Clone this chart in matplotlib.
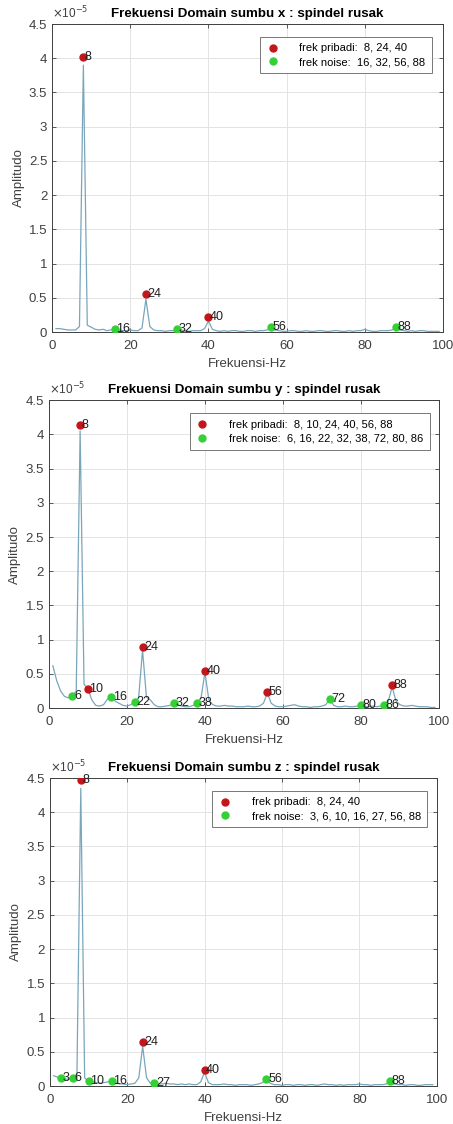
import numpy as np
import matplotlib
matplotlib.use("Agg")
from matplotlib import pyplot as plt

plt.rcParams['font.family'] = ['Liberation Sans', 'DejaVu Sans']

# frequency axis (Hz) and spectra, amplitude in units of 1e-5
freq = list(range(1, 100))

amp_x = [0.05, 0.05, 0.04, 0.03, 0.03, 0.03, 0.08, 3.90, 0.10, 0.07,
         0.04, 0.03, 0.04, 0.02, 0.03, 0.04, 0.03, 0.02, 0.02, 0.03,
         0.02, 0.02, 0.06, 0.48, 0.08, 0.03, 0.02, 0.02, 0.01, 0.02,
         0.02, 0.05, 0.03, 0.02, 0.01, 0.02, 0.02, 0.02, 0.05, 0.16,
         0.04, 0.02, 0.01, 0.02, 0.01, 0.02, 0.02, 0.01, 0.01, 0.02,
         0.02, 0.01, 0.02, 0.02, 0.03, 0.08, 0.03, 0.02, 0.01, 0.01,
         0.02, 0.02, 0.01, 0.01, 0.02, 0.01, 0.01, 0.02, 0.02, 0.01,
         0.01, 0.02, 0.02, 0.01, 0.01, 0.02, 0.01, 0.02, 0.02, 0.04,
         0.02, 0.01, 0.01, 0.02, 0.02, 0.02, 0.03, 0.07, 0.03, 0.02,
         0.01, 0.02, 0.01, 0.02, 0.02, 0.01, 0.01, 0.01, 0.01]

amp_y = [0.62, 0.40, 0.25, 0.17, 0.15, 0.18, 0.25, 4.05, 0.35, 0.28,
         0.12, 0.04, 0.03, 0.05, 0.13, 0.16, 0.10, 0.07, 0.04, 0.03,
         0.05, 0.09, 0.15, 0.85, 0.16, 0.12, 0.05, 0.02, 0.02, 0.03,
         0.04, 0.07, 0.05, 0.03, 0.02, 0.02, 0.04, 0.07, 0.15, 0.52,
         0.12, 0.05, 0.03, 0.03, 0.04, 0.03, 0.03, 0.02, 0.02, 0.02,
         0.03, 0.02, 0.02, 0.03, 0.07, 0.22, 0.07, 0.03, 0.02, 0.02,
         0.03, 0.04, 0.05, 0.03, 0.02, 0.02, 0.01, 0.02, 0.02, 0.03,
         0.05, 0.14, 0.04, 0.02, 0.02, 0.03, 0.02, 0.02, 0.03, 0.04,
         0.02, 0.02, 0.03, 0.02, 0.03, 0.04, 0.10, 0.31, 0.10, 0.05,
         0.03, 0.03, 0.04, 0.03, 0.02, 0.02, 0.02, 0.01, 0.01]

amp_z = [0.15, 0.13, 0.11, 0.10, 0.10, 0.12, 0.15, 4.35, 0.12, 0.07,
         0.06, 0.05, 0.04, 0.05, 0.06, 0.07, 0.05, 0.03, 0.03, 0.02,
         0.03, 0.04, 0.12, 0.58, 0.12, 0.04, 0.05, 0.03, 0.03, 0.04,
         0.03, 0.03, 0.02, 0.03, 0.02, 0.03, 0.02, 0.02, 0.06, 0.20,
         0.05, 0.02, 0.02, 0.02, 0.03, 0.02, 0.02, 0.01, 0.02, 0.02,
         0.02, 0.01, 0.02, 0.03, 0.05, 0.10, 0.04, 0.02, 0.02, 0.01,
         0.02, 0.02, 0.01, 0.02, 0.02, 0.01, 0.02, 0.02, 0.01, 0.02,
         0.03, 0.02, 0.02, 0.01, 0.02, 0.01, 0.02, 0.02, 0.02, 0.03,
         0.02, 0.02, 0.01, 0.02, 0.02, 0.02, 0.03, 0.07, 0.03, 0.02,
         0.02, 0.01, 0.02, 0.02, 0.01, 0.01, 0.02, 0.02, 0.02]

# marked peaks: (frequency, amplitude)
pribadi_x_f = [8, 24, 40]
pribadi_x_a = [4.02, 0.55, 0.22]
noise_x_f = [16, 32, 56, 88]
noise_x_a = [0.04, 0.05, 0.08, 0.07]

pribadi_y_f = [8, 10, 24, 40, 56, 88]
pribadi_y_a = [4.13, 0.28, 0.90, 0.54, 0.23, 0.34]
noise_y_f = [6, 16, 22, 32, 38, 72, 80, 86]
noise_y_a = [0.18, 0.16, 0.09, 0.07, 0.07, 0.14, 0.04, 0.04]

pribadi_z_f = [8, 24, 40]
pribadi_z_a = [4.47, 0.64, 0.24]
noise_z_f = [3, 6, 10, 16, 27, 56, 88]
noise_z_a = [0.11, 0.12, 0.07, 0.07, 0.05, 0.10, 0.07]

titles = ["Frekuensi Domain sumbu x : spindel rusak",
          "Frekuensi Domain sumbu y : spindel rusak",
          "Frekuensi Domain sumbu z : spindel rusak"]

RED = '#c3161c'
GREEN = '#35d035'
AXC = '#404040'


def panel(ax, amp, pf, pa, nf, na, title, leg_anchor):
    ax.plot(freq, amp, color='#7aa6bb', lw=0.9, zorder=2)
    ax.plot(pf, pa, 'o', color=RED, ms=5, zorder=3,
            label="frek pribadi:  " + ", ".join(str(v) for v in pf))
    ax.plot(nf, na, 'o', color=GREEN, ms=5, zorder=3,
            label="frek noise:  " + ", ".join(str(v) for v in nf))
    for f, a in zip(list(pf) + list(nf), list(pa) + list(na)):
        ax.text(f + 0.4, a, str(f), fontsize=9, color='#202020',
                ha='left', va='center', zorder=4)
    ax.set_xlim(0, 100)
    ax.set_ylim(0, 4.5)
    ax.set_xticks(range(0, 101, 20))
    ax.set_yticks(np.arange(0, 4.51, 0.5))
    ax.set_yticklabels(["0", "0.5", "1", "1.5", "2", "2.5", "3", "3.5", "4", "4.5"])
    ax.grid(True, color='#e3e3e3', lw=0.7)
    ax.set_axisbelow(True)
    ax.tick_params(direction='in', length=3, colors=AXC, labelsize=9.5,
                   top=True, right=True, width=0.6)
    ax.tick_params(axis='x', pad=6)
    for s in ax.spines.values():
        s.set_color(AXC)
        s.set_linewidth(0.7)
    ax.set_title(title, fontsize=9.6, fontweight='bold', pad=5)
    ax.set_xlabel("Frekuensi-Hz", fontsize=9.5, color=AXC, labelpad=4)
    ax.set_ylabel("Amplitudo", fontsize=9.5, color=AXC, labelpad=3)
    ax.text(0.0, 1.01, r"$\times$10$^{-5}$", transform=ax.transAxes,
            fontsize=8.5, color=AXC, ha='left', va='bottom')
    leg = ax.legend(loc='upper right', bbox_to_anchor=leg_anchor, fontsize=8,
                    handlelength=1.2, handletextpad=1.8, borderpad=0.55,
                    labelspacing=0.35, fancybox=False, framealpha=1,
                    edgecolor='#777777')
    leg.get_frame().set_linewidth(0.7)


fig = plt.figure(figsize=(4.53, 11.24), dpi=100)
ax1 = fig.add_axes([0.115, 0.7046, 0.863, 0.274])
ax2 = fig.add_axes([0.108, 0.370, 0.861, 0.274])
ax3 = fig.add_axes([0.110, 0.0338, 0.854, 0.274])

panel(ax1, amp_x, pribadi_x_f, pribadi_x_a, noise_x_f, noise_x_a, titles[0], (0.985, 0.975))
panel(ax2, amp_y, pribadi_y_f, pribadi_y_a, noise_y_f, noise_y_a, titles[1], (0.99, 0.975))
panel(ax3, amp_z, pribadi_z_f, pribadi_z_a, noise_z_f, noise_z_a, titles[2], (0.99, 0.975))

fig.savefig("out.png", dpi=100)
plt.close(fig)
